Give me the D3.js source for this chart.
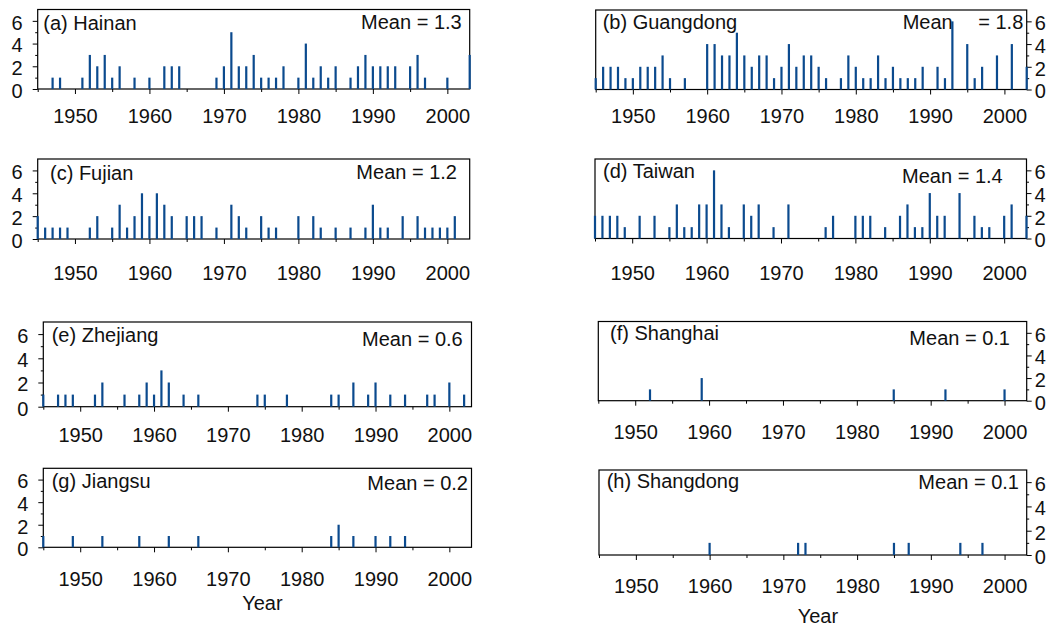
<!DOCTYPE html>
<html>
<head>
<meta charset="utf-8">
<script src="https://cdn.jsdelivr.net/npm/d3@7"></script>
<style>
  html, body { margin: 0; padding: 0; background: #ffffff; }
  svg { display: block; }
  text { font-family: "Liberation Sans", Arial, Helvetica, sans-serif; fill: #111; }
</style>
</head>
<body>
<svg id="chart" width="1053" height="626"></svg>
<script>
// ---------------- data ----------------
const panelNames = ["(a) Hainan", "(b) Guangdong", "(c) Fujian", "(d) Taiwan",
                    "(e) Zhejiang", "(f) Shanghai", "(g) Jiangsu", "(h) Shangdong"];
const meanWord = "Mean";
const meanValues = ["= 1.3", "= 1.8", "= 1.2", "= 1.4", "= 0.6", "= 0.1", "= 0.2", "= 0.1"];

const hainanYears = [1947,1948,1951,1952,1953,1954,1955,1956,1958,1960,1962,1963,1964,1969,1970,1971,1972,1973,1974,1975,1976,1977,1978,1980,1981,1982,1983,1984,1985,1987,1988,1989,1990,1991,1992,1993,1995,1996,1997,2000,2003];
const hainanCounts = [1,1,1,3,2,3,1,2,1,1,2,2,2,1,2,5,2,2,3,1,1,1,2,1,4,1,2,1,2,1,2,3,2,2,2,2,2,3,1,1,3];

const guangdongYears = [1945,1946,1947,1948,1949,1950,1951,1952,1953,1954,1955,1957,1960,1961,1962,1963,1964,1965,1966,1967,1968,1969,1970,1971,1972,1973,1974,1975,1976,1978,1979,1980,1981,1982,1983,1984,1985,1986,1987,1988,1989,1991,1992,1993,1995,1996,1997,1999,2001,2003];
const guangdongCounts = [1,2,2,2,1,1,2,2,2,3,1,1,4,4,3,3,5,3,2,3,3,1,2,4,2,3,3,2,1,1,3,2,1,1,3,1,2,1,1,1,2,2,1,6,4,1,2,3,4,2];

const fujianYears = [1945,1946,1947,1948,1949,1952,1953,1955,1956,1957,1958,1959,1960,1961,1962,1963,1965,1966,1967,1969,1971,1972,1973,1975,1976,1977,1980,1982,1983,1985,1987,1989,1990,1991,1992,1994,1996,1997,1998,1999,2000,2001];
const fujianCounts = [2,1,1,1,1,1,2,1,3,1,2,4,2,4,3,2,2,2,2,1,3,2,1,2,1,1,2,2,1,1,1,1,3,1,1,2,2,1,1,1,1,2];

const taiwanYears = [1945,1946,1947,1948,1949,1951,1953,1955,1956,1957,1958,1959,1960,1961,1962,1963,1965,1966,1967,1969,1971,1976,1977,1980,1981,1982,1984,1986,1987,1988,1989,1990,1991,1992,1994,1996,1997,1998,2000,2001,2003];
const taiwanCounts = [2,2,2,2,1,2,2,1,3,1,1,3,3,6,3,1,3,2,3,1,3,1,2,2,2,2,1,2,3,1,1,4,2,2,4,2,1,1,2,3,2];

const zhejiangYears = [1945,1947,1948,1949,1952,1953,1956,1958,1959,1960,1961,1962,1964,1966,1974,1975,1978,1984,1985,1987,1989,1990,1992,1994,1997,1998,2000,2002];
const zhejiangCounts = [1,1,1,1,1,2,1,1,2,1,3,2,1,1,1,1,1,1,1,2,1,2,1,1,1,1,2,1];

const shanghaiYears = [1952,1959,1985,1992,2000];
const shanghaiCounts = [1,2,1,1,1];

const jiangsuYears = [1945,1949,1953,1958,1962,1966,1984,1985,1987,1990,1992,1994];
const jiangsuCounts = [1,1,1,1,1,1,1,2,1,1,1,1];

const shandongYears = [1960,1972,1973,1985,1987,1994,1997];
const shandongCounts = [1,1,1,1,1,1,1];

const yearDomain = [1945, 2003];
const countDomain = [0, 7];
const xTickLabels = [1950, 1960, 1970, 1980, 1990, 2000];
const xMinorTicks = [1945, 1955, 1965, 1975, 1985, 1995];
const yTickLabels = [0, 2, 4, 6];
const yMinorTicks = [1, 3, 5];
const xAxisTitle = "Year";

// ---------------- layout (pixels, not data) ----------------
const layout = [
  {x0: 37.7, x1: 469.7, top: 9.5,  base: 89,    side: "left",  tickY: 123, nameX: 43.3, nameY: 29.5, meanX: 461.7, meanY: 28.5, gap: 0},
  {x0: 595.7, x1: 1026.7, top: 10, base: 89.5,  side: "right", tickY: 123, nameX: 602.7, nameY: 28.5, meanX: 1023.3, meanY: 28.5, gap: 20},
  {x0: 37.7, x1: 469.7, top: 159,  base: 239,   side: "left",  tickY: 280, nameX: 50,   nameY: 179.5, meanX: 457,  meanY: 178.5, gap: 0},
  {x0: 595,  x1: 1026.5, top: 159, base: 238.5, side: "right", tickY: 280, nameX: 603,  nameY: 177.5, meanX: 1002.7, meanY: 182.5, gap: 0},
  {x0: 43.3, x1: 471.5, top: 322,  base: 406.7, side: "left",  tickY: 442, nameX: 51.7, nameY: 341.5, meanX: 462.7, meanY: 346, gap: 0},
  {x0: 598.3, x1: 1026.7, top: 321.5, base: 400.7, side: "right", tickY: 439, nameX: 610, nameY: 339.5, meanX: 1010, meanY: 345, gap: 0},
  {x0: 43.3, x1: 471.5, top: 468.3, base: 547.3, side: "left",  tickY: 586, nameX: 51.7, nameY: 487.5, meanX: 468, meanY: 490, gap: 0, titleY: 610},
  {x0: 599,  x1: 1026.7, top: 470,  base: 555,   side: "right", tickY: 593, nameX: 606.7, nameY: 487.5, meanX: 1019, meanY: 489, gap: 0, titleY: 623}
];

const series = [
  [hainanYears, hainanCounts], [guangdongYears, guangdongCounts],
  [fujianYears, fujianCounts], [taiwanYears, taiwanCounts],
  [zhejiangYears, zhejiangCounts], [shanghaiYears, shanghaiCounts],
  [jiangsuYears, jiangsuCounts], [shandongYears, shandongCounts]
];

const barColor = "#0b4a8e";
const fontSize = 20;
const svg = d3.select("#chart");

series.forEach(([yrs, cnts], i) => {
  const L = layout[i];
  const x = d3.scaleLinear().domain(yearDomain).range([L.x0, L.x1]);
  const y = d3.scaleLinear().domain(countDomain).range([L.base, L.top]);
  const g = svg.append("g");
  const data = yrs.map((yr, k) => ({year: yr, n: cnts[k]}));

  // x axis (major with labels, minor without)
  const xAxis = d3.axisBottom(x).tickValues(xTickLabels).tickFormat(d3.format("d"))
    .tickSize(5).tickSizeOuter(0).tickPadding(0);
  const xg = g.append("g").attr("transform", `translate(0,${L.base})`).call(xAxis);
  xg.select(".domain").remove();
  xg.selectAll("text").attr("y", null).attr("dy", null)
    .attr("transform", `translate(0,${L.tickY - L.base})`)
    .style("font-size", fontSize + "px").attr("fill", "#111");
  const xm = g.append("g").attr("transform", `translate(0,${L.base})`)
    .call(d3.axisBottom(x).tickValues(xMinorTicks).tickSize(3).tickSizeOuter(0).tickFormat(""));
  xm.select(".domain").remove();

  // y axis
  const left = L.side === "left";
  const yAxis = (left ? d3.axisLeft(y) : d3.axisRight(y)).tickValues(yTickLabels)
    .tickSize(5).tickSizeOuter(0).tickPadding(left ? 10 : 3).tickFormat(d3.format("d"));
  const yx = left ? L.x0 : L.x1;
  const yg = g.append("g").attr("transform", `translate(${yx},0)`).call(yAxis);
  yg.select(".domain").remove();
  yg.selectAll("text").attr("dy", "0.42em").style("font-size", fontSize + "px").attr("fill", "#111");
  const ym = g.append("g").attr("transform", `translate(${yx},0)`)
    .call((left ? d3.axisLeft(y) : d3.axisRight(y)).tickValues(yMinorTicks).tickSize(2.5).tickSizeOuter(0).tickFormat(""));
  ym.select(".domain").remove();

  // frame
  g.append("rect")
    .attr("x", L.x0).attr("y", y(countDomain[1]))
    .attr("width", L.x1 - L.x0).attr("height", y(0) - y(countDomain[1]))
    .attr("fill", "none").attr("stroke", "#000").attr("stroke-width", 1.2);

  // labels
  g.append("text").attr("x", L.nameX).attr("y", L.nameY)
    .style("font-size", fontSize + "px").text(panelNames[i]);
  const mt = g.append("text").attr("x", L.meanX).attr("y", L.meanY).attr("text-anchor", "end")
    .style("font-size", fontSize + "px");
  mt.append("tspan").text(meanWord + " ");
  mt.append("tspan").attr("dx", L.gap).text(meanValues[i]);

  // bars (drawn on top so tall bars cross the labels as in the figure)
  g.append("g").selectAll("rect").data(data).join("rect")
    .attr("x", d => x(d.year) - 1.1)
    .attr("width", 2.2)
    .attr("y", d => y(d.n))
    .attr("height", d => y(0) - y(d.n))
    .attr("fill", barColor);

  if (L.titleY) {
    g.append("text").attr("x", (L.x0 + L.x1) / 2 + 5).attr("y", L.titleY)
      .attr("text-anchor", "middle").style("font-size", fontSize + "px").text(xAxisTitle);
  }
});
</script>
</body>
</html>
